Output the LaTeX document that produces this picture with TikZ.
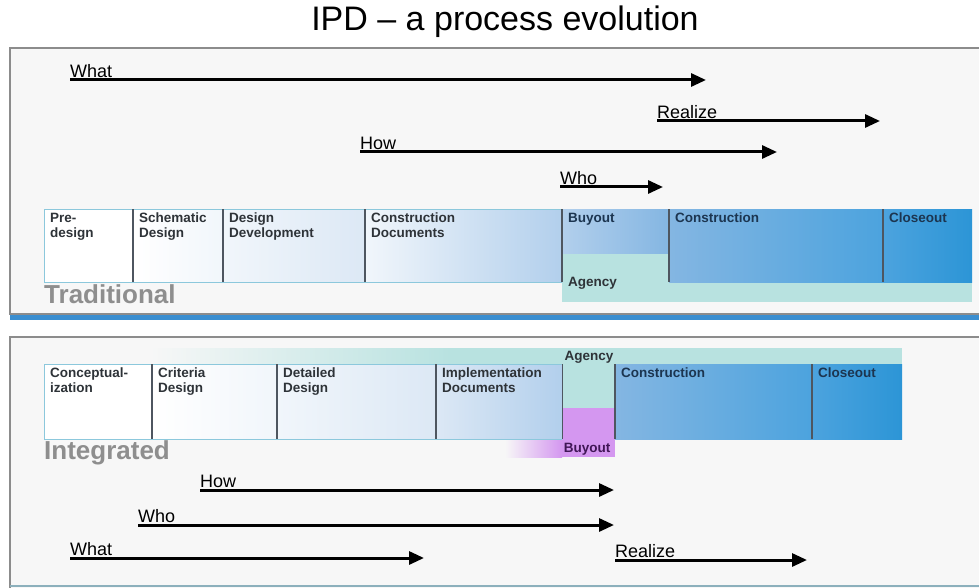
\documentclass[tikz,border=0pt]{standalone}
\usepackage{fontspec}
\setmainfont{Liberation Sans}
\usetikzlibrary{arrows.meta}
\definecolor{framegray}{HTML}{8C8C8C}
\definecolor{panelfill}{HTML}{F7F7F7}
\definecolor{shadowblue}{HTML}{3A8ED0}
\definecolor{sepgray}{HTML}{4E5660}
\definecolor{bardge}{HTML}{8CC8DC}
\definecolor{agencyteal}{HTML}{B8E2E0}
\definecolor{buyoutpurple}{HTML}{D497F0}
\definecolor{phasetext}{HTML}{2E3338}
\definecolor{bluetext}{HTML}{1C3550}
\definecolor{kindgray}{HTML}{8E8E8E}
\definecolor{paleblue}{HTML}{F1F6FB}
\definecolor{softblue}{HTML}{DCE8F5}
\definecolor{lightblue}{HTML}{B2CFEC}
\definecolor{midblue}{HTML}{84B6E2}
\definecolor{deepblue}{HTML}{4CA3DE}
\definecolor{darkblue}{HTML}{2C95D6}

\begin{document}
\begin{tikzpicture}[x=1pt,y=-1pt,
    flow/.style={line width=3pt,-{Triangle[length=15pt,width=13pt]}},
    flowlbl/.style={anchor=south west,inner xsep=0pt,inner ysep=2pt,
        font=\fontsize{18}{20}\selectfont},
    phase/.style={anchor=north west,inner sep=0pt,minimum height=73},
    phasetxt/.style={anchor=north west,align=left,inner xsep=6pt,inner ysep=4pt,
        font=\bfseries\fontsize{13.5}{15}\selectfont,text=phasetext},
    bluetxt/.style={phasetxt,text=bluetext},
    sep/.style={draw=sepgray,line width=1.3pt},
    kind/.style={anchor=north west,inner sep=0pt,text=kindgray,
        font=\bfseries\fontsize{26}{27}\selectfont}
]
\useasboundingbox (0,0) rectangle (979,588);
\fill[white] (0,0) rectangle (979,588);

\node (title) at (505,22) {\fontsize{34}{36}\selectfont IPD -- a process evolution};

% traditional
\fill[panelfill] (10,48) rectangle (985,314);
\draw[framegray,line width=1.5pt] (985,48) -- (10,48) -- (10,314) -- (985,314);
\fill[shadowblue] (10,315) rectangle (985,320);

\node[flowlbl] (twhat) at (70,80) {What};
\coordinate (twhatend) at (706,80);
\draw[flow] (twhat.south west) -- (twhatend);
\node[flowlbl] (trealize) at (657,121) {Realize};
\coordinate (trealizeend) at (880,121);
\draw[flow] (trealize.south west) -- (trealizeend);
\node[flowlbl] (thow) at (360,152) {How};
\coordinate (thowend) at (777,152);
\draw[flow] (thow.south west) -- (thowend);
\node[flowlbl] (twho) at (560,187) {Who};
\coordinate (twhoend) at (663,187);
\draw[flow] (twho.south west) -- (twhoend);

\fill[agencyteal] (562,253) rectangle (972,302);
\node[phase,minimum width=89,left color=white,right color=white,
    label={[phasetxt]north west:{Pre-\\design}}] (predesign) at (44,209) {};
\node[phase,minimum width=90,left color=white,right color=paleblue,
    label={[phasetxt]north west:{Schematic\\Design}}] (schematic) at (133,209) {};
\node[phase,minimum width=142,left color=paleblue,right color=softblue,
    label={[phasetxt]north west:{Design\\Development}}] (designdev) at (223,209) {};
\node[phase,minimum width=197,left color=paleblue,right color=lightblue,
    label={[phasetxt]north west:{Construction\\Documents}}] (constdocs) at (365,209) {};
\node[phase,minimum width=107,minimum height=44,left color=lightblue,right color=midblue,
    label={[bluetxt]north west:{Buyout}}] (tbuyout) at (562,209) {};
\node[phase,minimum width=214,left color=midblue,right color=deepblue,
    label={[bluetxt]north west:{Construction}}] (tconst) at (669,209) {};
\node[phase,minimum width=89,left color=deepblue,right color=darkblue,
    label={[bluetxt]north west:{Closeout}}] (tclose) at (883,209) {};
\node[phasetxt,anchor=south west,inner ysep=3pt] (tagency) at (562,293) {Agency};
\draw[bardge,line width=1pt] (constdocs.north east) -- (predesign.north west) -- (predesign.south west) -- (constdocs.south east);
\draw[sep] (schematic.north west) -- (schematic.south west);
\draw[sep] (designdev.north west) -- (designdev.south west);
\draw[sep] (constdocs.north west) -- (constdocs.south west);
\draw[sep] (tbuyout.north west) -- (tbuyout.north west |- constdocs.south);
\draw[sep] (tconst.north west) -- (tconst.south west);
\draw[sep] (tclose.north west) -- (tclose.south west);
\node[kind] (traditional) at (44,284) {Traditional};

% integrated
\fill[panelfill] (10,337) rectangle (985,592);
\draw[framegray,line width=1.5pt] (985,337) -- (10,337) -- (10,592);
\draw[bardge!60!framegray,line width=1.2pt] (10,586) -- (985,586);

\shade[left color=panelfill,right color=agencyteal] (150,348) rectangle (450,364);
\fill[agencyteal] (450,348) rectangle (902,364);
\shade[left color=panelfill,right color=buyoutpurple] (505,440) rectangle (562,457);
\fill[buyoutpurple] (562,408) rectangle (615,457);
\fill[agencyteal] (562,364) rectangle (615,408);

\node[phase,minimum width=108,minimum height=75,left color=white,right color=white,
    label={[phasetxt]north west:{Conceptual-\\ization}}] (concept) at (44,364) {};
\node[phase,minimum width=125,minimum height=75,left color=white,right color=paleblue,
    label={[phasetxt]north west:{Criteria\\Design}}] (criteria) at (152,364) {};
\node[phase,minimum width=159,minimum height=75,left color=paleblue,right color=softblue,
    label={[phasetxt]north west:{Detailed\\Design}}] (detailed) at (277,364) {};
\node[phase,minimum width=126,minimum height=75,left color=softblue,right color=lightblue,
    label={[phasetxt]north west:{Implementation\\Documents}}] (implement) at (436,364) {};
\node[phase,minimum width=197,minimum height=75,left color=midblue,right color=deepblue,
    label={[bluetxt]north west:{Construction}}] (iconst) at (615,364) {};
\node[phase,minimum width=90,minimum height=75,left color=deepblue,right color=darkblue,
    label={[bluetxt]north west:{Closeout}}] (iclose) at (812,364) {};
\node[phasetxt,anchor=center,inner sep=0pt] (iagency) at (589,357) {Agency};
\node[phasetxt,anchor=center,inner sep=0pt,text={rgb,255:red,64;green,22;blue,86}] (ibuyout) at (587,449) {Buyout};
\draw[bardge,line width=1pt] (implement.north east) -- (concept.north west) -- (concept.south west) -- (implement.south east);
\draw[sep] (criteria.north west) -- (criteria.south west);
\draw[sep] (detailed.north west) -- (detailed.south west);
\draw[sep] (implement.north west) -- (implement.south west);
\draw[sep] (implement.north east) -- (implement.south east);
\draw[sep] (iconst.north west) -- (iconst.south west);
\draw[sep] (iclose.north west) -- (iclose.south west);
\node[kind] (integrated) at (44,440) {Integrated};

\node[flowlbl] (ihow) at (200,490) {How};
\coordinate (ihowend) at (614,490);
\draw[flow] (ihow.south west) -- (ihowend);
\node[flowlbl] (iwho) at (138,525) {Who};
\coordinate (iwhoend) at (614,525);
\draw[flow] (iwho.south west) -- (iwhoend);
\node[flowlbl] (iwhat) at (70,558) {What};
\coordinate (iwhatend) at (424,558);
\draw[flow] (iwhat.south west) -- (iwhatend);
\node[flowlbl] (irealize) at (615,560) {Realize};
\coordinate (irealizeend) at (807,560);
\draw[flow] (irealize.south west) -- (irealizeend);
\end{tikzpicture}
\end{document}
